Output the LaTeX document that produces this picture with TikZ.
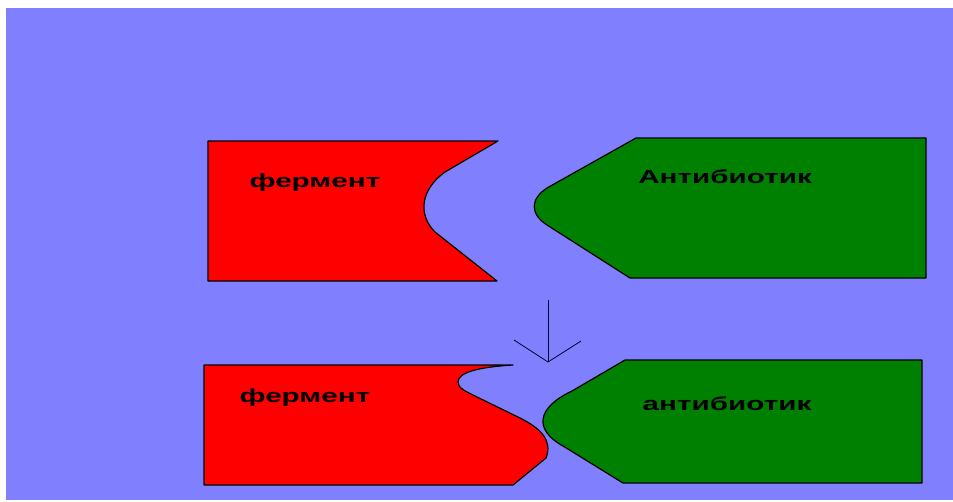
\documentclass[tikz,border=0pt]{standalone}
\usepackage{fontspec}
\setmainfont{Liberation Sans}
\definecolor{bgblue}{HTML}{8080FF}
\definecolor{enzred}{HTML}{FF0000}
\definecolor{abgreen}{HTML}{008000}
\tikzset{
  shapeline/.style={draw=black, line width=1.2pt, line join=round},
  lbl/.style={font=\fontsize{19}{19}\selectfont\bfseries, text=black, inner sep=0pt},
  arr/.style={draw=black!80!blue, line width=1pt}
}
\newcommand{\wide}[1]{\scalebox{1.56}[1]{#1}}
\begin{document}
\begin{tikzpicture}[x=1pt,y=-1pt]
\useasboundingbox (0,0) rectangle (953,501);
\fill[white] (0,0) rectangle (953,501);
\fill[bgblue] (6,8) rectangle (953,500);
% top enzyme
\filldraw[shapeline, fill=enzred] (208,141) -- (498,141) -- (445,172)
  .. controls (420,190) and (418,215) .. (435,232) -- (497,281) -- (208,281) -- cycle;
% top antibiotic
\filldraw[shapeline, fill=abgreen] (636,138) -- (926,138) -- (926,278) -- (630,278) -- (547,225)
  .. controls (530,214) and (530,199) .. (547,188) -- cycle;
% bottom enzyme
\filldraw[shapeline, fill=enzred] (204,365) -- (513,365)
  .. controls (480,367) and (458,372) .. (458,382)
  .. controls (458,388) and (465,391) .. (475,396) -- (520,418)
  .. controls (540,428) and (553,440) .. (546,458) -- (513,485) -- (204,485) -- cycle;
% bottom antibiotic
\filldraw[shapeline, fill=abgreen] (625,360) -- (922,360) -- (922,483) -- (623,483) -- (563,446)
  .. controls (534,430) and (536,408) .. (572,391) -- cycle;
% labels
\node[lbl] (f1) at (315,183) {\wide{фермент}};
\node[lbl] (a1) at (725,177) {\wide{Антибиотик}};
\node[lbl] (f2) at (305,398) {\wide{фермент}};
\node[lbl] (a2) at (727,404) {\wide{антибиотик}};
% arrow
\coordinate (s) at (548,300);
\coordinate (t) at (548,362);
\coordinate (hl) at (514,340);
\coordinate (hr) at (581,341);
\draw[arr] (s) -- (t);
\draw[arr, line width=0.8pt] (hl) -- (t) -- (hr);
\end{tikzpicture}
\end{document}
